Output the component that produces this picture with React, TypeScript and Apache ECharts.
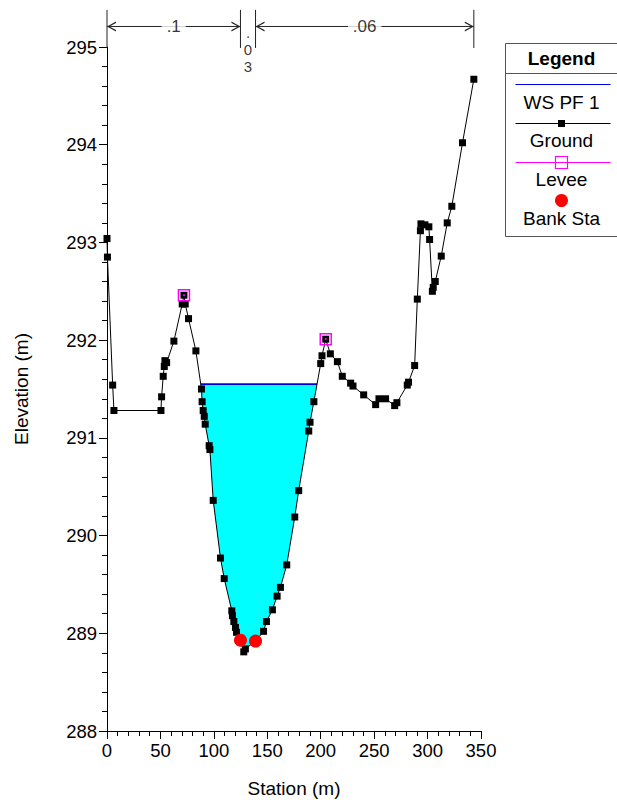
import React, { useEffect, useRef } from "react";
import * as echarts from "echarts";

const groundStation = [0, 0.4, 5.3, 6.5, 50.5, 51.1, 52.6, 53.6, 54.2, 55.8, 62.6, 70.4, 72.0, 73.2, 76.3, 83.2, 88.4, 89.0, 90.0, 91.0, 91.9, 95.6, 96.3, 99.4, 106.2, 109.7, 116.8, 117.4, 118.7, 120.2, 121.2, 124.9, 128.0, 129.5, 139.0, 146.5, 149.2, 154.8, 159.2, 162.3, 168.2, 175.7, 179.4, 188.8, 190.0, 193.6, 200.0, 201.2, 204.7, 209.0, 215.6, 220.2, 228.0, 230.2, 240.2, 251.4, 254.5, 260.7, 269.2, 271.3, 281.0, 282.2, 287.9, 290.4, 293.3, 293.8, 297.5, 301.2, 301.9, 304.5, 305.3, 307.2, 312.8, 318.4, 322.7, 332.7, 343.3];
const groundElev = [293.04, 292.85, 291.54, 291.28, 291.28, 291.42, 291.63, 291.73, 291.79, 291.77, 291.99, 292.37, 292.46, 292.37, 292.22, 291.89, 291.50, 291.37, 291.28, 291.22, 291.14, 290.92, 290.88, 290.36, 289.77, 289.56, 289.23, 289.18, 289.12, 289.06, 289.01, 288.93, 288.81, 288.84, 288.92, 289.02, 289.12, 289.24, 289.38, 289.47, 289.70, 290.19, 290.46, 291.07, 291.16, 291.37, 291.76, 291.84, 292.01, 291.86, 291.78, 291.63, 291.56, 291.53, 291.44, 291.34, 291.40, 291.40, 291.33, 291.36, 291.54, 291.57, 291.74, 292.42, 293.12, 293.19, 293.18, 293.16, 293.03, 292.50, 292.54, 292.60, 292.86, 293.20, 293.37, 294.02, 294.67];
const leveeStation = [72.0, 204.7];
const leveeElev = [292.46, 292.01];
const bankStation = [124.9, 139.0];
const bankElev = [288.93, 288.92];
const wsElev = 291.55;
const nLabels = [".1", ".\n0\n3", ".06"];
const nBreaks = [0, 124.9, 139.0, 343.3];
const legendItems = ["WS PF 1", "Ground", "Levee", "Bank Sta"];

const FONT = '"Liberation Sans", Arial, sans-serif';

function waterPolygon(): number[][] {
  let iMin = 0;
  groundElev.forEach((e, i) => { if (e < groundElev[iMin]) iMin = i; });
  let l = iMin;
  while (l > 0 && groundElev[l - 1] < wsElev) l--;
  let r = iMin;
  while (r < groundElev.length - 1 && groundElev[r + 1] < wsElev) r++;
  const interp = (a: number, b: number) => {
    const t = (wsElev - groundElev[a]) / (groundElev[b] - groundElev[a]);
    return groundStation[a] + t * (groundStation[b] - groundStation[a]);
  };
  const xl = interp(l, l - 1);
  const xr = interp(r, r + 1);
  const pts: number[][] = [[xl, wsElev]];
  for (let i = l; i <= r; i++) pts.push([groundStation[i], groundElev[i]]);
  pts.push([xr, wsElev]);
  return pts;
}

const chevronRight = "path://M0,0 L10,5 L0,10 L0,8.6 L7.4,5 L0,1.4 Z";
const chevronLeft = "path://M10,0 L0,5 L10,10 L10,8.6 L2.6,5 L10,1.4 Z";

export default function App() {
  const ref = useRef<HTMLDivElement>(null);
  useEffect(() => {
    if (!ref.current) return;
    const chart = echarts.init(ref.current, null, { renderer: "svg" });
    const poly = waterPolygon();
    const ground = groundStation.map((s, i) => [s, groundElev[i]]);
    const annTop = 295.38;
    const annBottom = 294.99;
    const arrowY = 295.21;

    const series: any[] = [
      {
        type: "custom",
        silent: true,
        z: 1,
        clip: false,
        data: [poly[0]],
        renderItem: (_p: any, api: any) => ({
          type: "polygon",
          shape: { points: poly.map((p) => api.coord(p)) },
          style: { fill: "#00ffff", stroke: "none" },
        }),
      },
      {
        type: "line",
        name: "WS PF 1",
        z: 2,
        symbol: "none",
        data: [poly[0], poly[poly.length - 1]],
        lineStyle: { color: "#0000e6", width: 1.6 },
      },
      {
        type: "line",
        name: "Ground",
        z: 3,
        data: ground,
        symbol: "rect",
        symbolSize: 7,
        showAllSymbol: true,
        itemStyle: { color: "#000", opacity: 1 },
        lineStyle: { color: "#000", width: 1 },
      },
      {
        type: "scatter",
        name: "Levee",
        z: 4,
        data: leveeStation.map((s, i) => [s, leveeElev[i]]),
        symbol: "rect",
        symbolSize: 11,
        itemStyle: { color: "rgba(0,0,0,0)", borderColor: "#ff00ff", borderWidth: 1.5, opacity: 1 },
      },
      {
        type: "scatter",
        z: 4,
        data: leveeStation.map((s, i) => [s, leveeElev[i]]),
        symbol: "circle",
        symbolSize: 2,
        itemStyle: { color: "#ff00ff", opacity: 1 },
      },
      {
        type: "scatter",
        name: "Bank Sta",
        z: 5,
        data: bankStation.map((s, i) => [s, bankElev[i]]),
        symbol: "circle",
        symbolSize: 13,
        itemStyle: { color: "#ff0000", opacity: 1 },
      },
    ];

    nBreaks.forEach((b) => {
      series.push({
        type: "line",
        clip: false,
        symbol: "none",
        z: 6,
        data: [[b, annBottom], [b, annTop]],
        lineStyle: { color: "#222", width: 1 },
      });
    });
    for (let k = 0; k < nBreaks.length - 1; k++) {
      const a = nBreaks[k];
      const b = nBreaks[k + 1];
      const mid = (a + b) / 2;
      if (b - a > 30) {
        series.push({
          type: "line",
          clip: false,
          z: 6,
          data: [
            { value: [a, arrowY], symbol: chevronLeft, symbolSize: [9, 10], symbolOffset: [4.5, 0] },
            { value: [b, arrowY], symbol: chevronRight, symbolSize: [9, 10], symbolOffset: [-4.5, 0] },
          ],
          itemStyle: { color: "#222" },
          lineStyle: { color: "#222", width: 1 },
        });
        series.push({
          type: "scatter",
          clip: false,
          z: 7,
          symbolSize: 1,
          itemStyle: { color: "rgba(0,0,0,0)" },
          data: [{ name: nLabels[k], value: [mid, arrowY] }],
          label: {
            show: true,
            position: "inside",
            formatter: "{b}",
            color: "#000",
            fontSize: 17,
            fontFamily: FONT,
            backgroundColor: "#fff",
            padding: [1, 5],
          },
        });
      } else {
        series.push({
          type: "scatter",
          clip: false,
          z: 7,
          symbolSize: 1,
          itemStyle: { color: "rgba(0,0,0,0)" },
          data: [{ name: nLabels[k], value: [mid, 294.97] }],
          label: {
            show: true,
            position: "inside",
            formatter: "{b}",
            color: "#000",
            fontSize: 15,
            lineHeight: 17,
            fontFamily: FONT,
          },
        });
      }
    }

    const legendChildren: any[] = [
      { type: "rect", shape: { x: 0, y: 0, width: 112, height: 193 }, style: { fill: "#fff", stroke: "#555", lineWidth: 1 } },
      { type: "text", x: 56, y: 15, style: { text: "Legend", font: `bold 19px ${FONT}`, fill: "#000", textAlign: "center", textVerticalAlign: "middle", align: "center", verticalAlign: "middle" } },
      { type: "line", shape: { x1: 0, y1: 30, x2: 112, y2: 30 }, style: { stroke: "#555", lineWidth: 1 } },
      { type: "line", shape: { x1: 10, y1: 41, x2: 105, y2: 41 }, style: { stroke: "#0000e6", lineWidth: 1.2 } },
      { type: "line", shape: { x1: 10, y1: 80, x2: 105, y2: 80 }, style: { stroke: "#000", lineWidth: 1 } },
      { type: "rect", shape: { x: 52.5, y: 76.5, width: 7, height: 7 }, style: { fill: "#000" } },
      { type: "line", shape: { x1: 10, y1: 119, x2: 105, y2: 119 }, style: { stroke: "#ff00ff", lineWidth: 1.2 } },
      { type: "rect", shape: { x: 50, y: 113, width: 12, height: 12 }, style: { fill: "none", stroke: "#ff00ff", lineWidth: 1.2 } },
      { type: "circle", shape: { cx: 56, cy: 157, r: 6.5 }, style: { fill: "#ff0000" } },
    ];
    const textYs = [58.5, 97, 135.5, 175];
    legendItems.forEach((t, i) => {
      legendChildren.push({
        type: "text",
        x: 56,
        y: textYs[i],
        style: { text: t, font: `19px ${FONT}`, fill: "#000", textAlign: "center", textVerticalAlign: "middle", align: "center", verticalAlign: "middle" },
      });
    });

    chart.setOption({
      animation: false,
      textStyle: { fontFamily: FONT },
      grid: { left: 107, right: 136, top: 47, bottom: 69, containLabel: false },
      xAxis: {
        type: "value",
        min: 0,
        max: 350,
        interval: 50,
        name: "Station (m)",
        nameLocation: "middle",
        nameGap: 48,
        nameTextStyle: { fontSize: 19, color: "#000", fontFamily: FONT },
        axisLine: { show: true, onZero: false, lineStyle: { color: "#000", width: 1 } },
        axisTick: { show: true, length: 8, lineStyle: { color: "#000" } },
        minorTick: { show: true, splitNumber: 5, length: 5, lineStyle: { color: "#000" } },
        axisLabel: { fontSize: 18.5, color: "#000", margin: 10, fontFamily: FONT },
        splitLine: { show: false },
      },
      yAxis: {
        type: "value",
        min: 288,
        max: 295,
        interval: 1,
        name: "Elevation (m)",
        nameLocation: "middle",
        nameGap: 76,
        nameTextStyle: { fontSize: 19, color: "#000", fontFamily: FONT },
        axisLine: { show: true, onZero: false, lineStyle: { color: "#000", width: 1 } },
        axisTick: { show: true, length: 8, lineStyle: { color: "#000" } },
        minorTick: { show: true, splitNumber: 5, length: 5, lineStyle: { color: "#000" } },
        axisLabel: { fontSize: 18.5, color: "#000", margin: 10, fontFamily: FONT },
        splitLine: { show: false },
      },
      series,
      graphic: [{ type: "group", left: 503, top: 43, children: legendChildren }],
    });
    return () => chart.dispose();
  }, []);
  return <div ref={ref} style={{ position: "absolute", left: 0, top: 0, width: 617, height: 803 }} />;
}
